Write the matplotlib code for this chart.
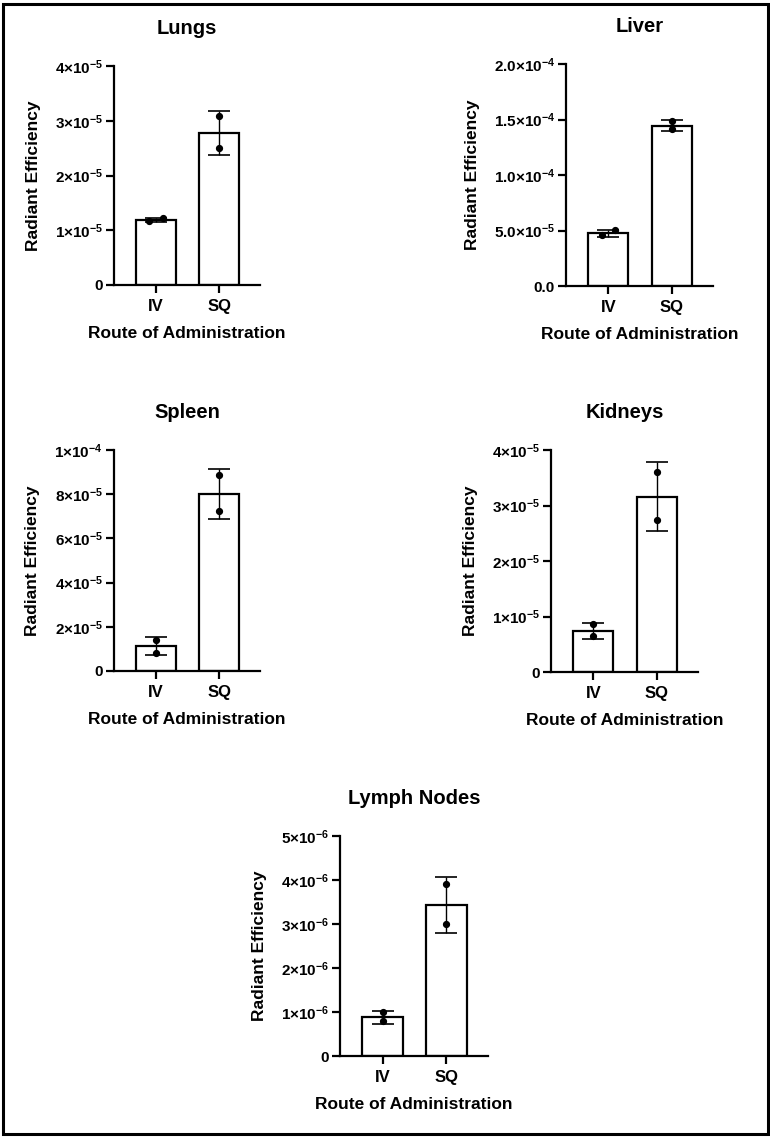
import matplotlib
matplotlib.use("Agg")
import matplotlib.pyplot as plt
from matplotlib.patches import Rectangle
import numpy as np

plt.rcParams['font.family'] = ['Liberation Sans', 'DejaVu Sans']
plt.rcParams['font.weight'] = 'bold'
plt.rcParams['mathtext.fontset'] = 'custom'
plt.rcParams['mathtext.rm'] = 'Liberation Sans:bold'
plt.rcParams['mathtext.it'] = 'Liberation Sans:bold'
plt.rcParams['mathtext.bf'] = 'Liberation Sans:bold'
plt.rcParams['mathtext.sf'] = 'Liberation Sans:bold'

# ---------------- data ----------------
organs = ["Lungs", "Liver", "Spleen", "Kidneys", "Lymph Nodes"]
routes = ["IV", "SQ"]

iv_mean = [1.185e-5, 4.73e-5, 1.12e-5, 0.74e-5, 0.879e-6]
sq_mean = [2.78e-5, 1.443e-4, 8.0e-5, 3.16e-5, 3.43e-6]
iv_sd = [0.035e-5, 0.36e-5, 0.415e-5, 0.145e-5, 0.145e-6]
sq_sd = [0.405e-5, 0.48e-5, 1.13e-5, 0.615e-5, 0.64e-6]

iv_points = [[1.17e-5, 1.22e-5], [4.55e-5, 5.03e-5], [1.42e-5, 0.83e-5],
             [0.86e-5, 0.656e-5], [0.99e-6, 0.795e-6]]
sq_points = [[3.08e-5, 2.51e-5], [1.488e-4, 1.416e-4], [8.85e-5, 7.25e-5],
             [3.61e-5, 2.74e-5], [3.90e-6, 3.00e-6]]

ytick_values = [
    [0, 1e-5, 2e-5, 3e-5, 4e-5],
    [0, 5e-5, 1e-4, 1.5e-4, 2e-4],
    [0, 2e-5, 4e-5, 6e-5, 8e-5, 1e-4],
    [0, 1e-5, 2e-5, 3e-5, 4e-5],
    [0, 1e-6, 2e-6, 3e-6, 4e-6, 5e-6],
]
ytick_labels = [
    ["0", r"$1{\times}10^{-5}$", r"$2{\times}10^{-5}$", r"$3{\times}10^{-5}$", r"$4{\times}10^{-5}$"],
    ["0.0", r"$5.0{\times}10^{-5}$", r"$1.0{\times}10^{-4}$", r"$1.5{\times}10^{-4}$", r"$2.0{\times}10^{-4}$"],
    ["0", r"$2{\times}10^{-5}$", r"$4{\times}10^{-5}$", r"$6{\times}10^{-5}$", r"$8{\times}10^{-5}$", r"$1{\times}10^{-4}$"],
    ["0", r"$1{\times}10^{-5}$", r"$2{\times}10^{-5}$", r"$3{\times}10^{-5}$", r"$4{\times}10^{-5}$"],
    ["0", r"$1{\times}10^{-6}$", r"$2{\times}10^{-6}$", r"$3{\times}10^{-6}$", r"$4{\times}10^{-6}$", r"$5{\times}10^{-6}$"],
]

# ---------------- layout (pixels: left, top, right, bottom) ----------------
W, H = 770, 1137
boxes = [(114, 66, 260, 285), (566, 64, 713, 286), (114, 450, 260, 671),
         (551, 450, 698, 672), (340, 836, 488, 1056)]
iv_offsets = [[-0.11, 0.11], [-0.1, 0.1], [0, 0], [0, 0], [0, 0]]

fig = plt.figure(figsize=(W / 100, H / 100), dpi=100)
fig.add_artist(Rectangle((3 / W, 3 / H), 765 / W, 1130 / H, transform=fig.transFigure,
                         fill=False, edgecolor='black', linewidth=2.2))

LW = 1.6
for i, organ in enumerate(organs):
    l, t, r, b = boxes[i]
    ax = fig.add_axes([l / W, 1 - b / H, (r - l) / W, (b - t) / H])
    x = np.arange(len(routes))
    means = [iv_mean[i], sq_mean[i]]
    sds = [iv_sd[i], sq_sd[i]]
    ax.bar(x, means, width=0.635, color='white', edgecolor='black', linewidth=LW, zorder=2)
    ax.errorbar(x, means, yerr=sds, fmt='none', ecolor='black', elinewidth=1.0,
                capsize=8, capthick=1.2, zorder=3)
    pts = [iv_points[i], sq_points[i]]
    offs = [iv_offsets[i], [0, 0]]
    for j in range(2):
        for k, v in enumerate(pts[j]):
            ax.plot(x[j] + offs[j][k], v, 'o', color='black', markersize=4.2, zorder=4)
    ax.set_xlim(-0.667, 1.65)
    yt = ytick_values[i]
    ax.set_ylim(0, yt[-1])
    ax.set_yticks(yt)
    ax.set_yticklabels(ytick_labels[i])
    ax.set_xticks(x)
    ax.set_xticklabels(routes)
    for s in ['top', 'right']:
        ax.spines[s].set_visible(False)
    for s in ['left', 'bottom']:
        ax.spines[s].set_linewidth(LW)
    ax.tick_params(axis='both', direction='out', length=6, width=LW)
    ax.tick_params(axis='y', labelsize=11, pad=2)
    ax.tick_params(axis='x', labelsize=12, pad=4)
    ax.set_title(organ, fontsize=14.5, fontweight='bold', pad=23)
    ax.set_xlabel("Route of Administration", fontsize=12.5, fontweight='bold', labelpad=9)
    ax.set_ylabel("Radiant Efficiency", fontsize=12.5, fontweight='bold', labelpad=10)

fig.savefig("out.png", dpi=100)
